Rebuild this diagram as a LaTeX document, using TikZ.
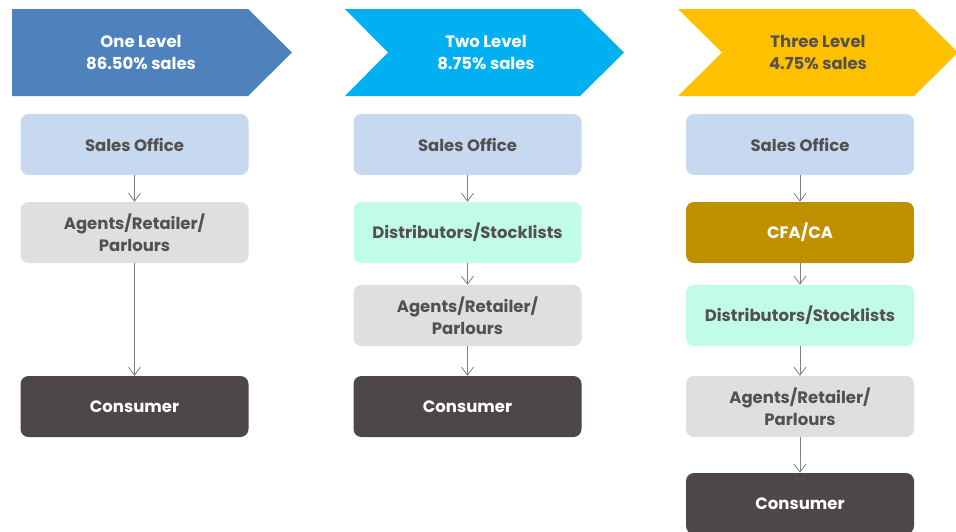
\documentclass[tikz,border=0pt]{standalone}
\usepackage{fontspec}
\setmainfont{Poppins}
\usetikzlibrary{arrows.meta}

\definecolor{headone}{HTML}{4F81BD}
\definecolor{headtwo}{HTML}{00B0F0}
\definecolor{headthree}{HTML}{FFC000}
\definecolor{salesblue}{HTML}{C6D9F1}
\definecolor{agentgray}{HTML}{DFDFDF}
\definecolor{distmint}{HTML}{C0FCE8}
\definecolor{cfagold}{HTML}{BF9000}
\definecolor{consdark}{HTML}{4D4847}
\definecolor{txtgray}{HTML}{545050}
\definecolor{arrgray}{HTML}{808080}

\tikzset{
  stage/.style={rounded corners=8pt, minimum width=228pt, minimum height=61pt,
    inner sep=0pt, align=center, text=txtgray,
    font=\bfseries\fontsize{16.5}{22}\selectfont},
  headtext/.style={align=center, font=\bfseries\fontsize{16.5}{22}\selectfont},
  flow/.style={draw=arrgray, line width=0.8pt, -{Straight Barb[length=8pt,width=12pt]}}
}

\begin{document}
\begin{tikzpicture}[x=1pt,y=-1pt]

  \newcommand\XA{134.5}
  \newcommand\XB{467.5}
  \newcommand\XC{800}

  \useasboundingbox (0,0) rectangle (956,531);

  % heads
  \fill[headone] (12,9) -- (248,9) -- (292,52.5) -- (248,96) -- (12,96) -- cycle;
  \fill[headtwo] (345,9) -- (580,9) -- (624,52.5) -- (580,96) -- (345,96)
    -- (388,52.5) -- cycle;
  \fill[headthree] (678,9) -- (914,9) -- (958,52.5) -- (914,96) -- (678,96)
    -- (722,52.5) -- cycle;

  \node[headtext, text=white] (headA) at (141,52.5) {One Level\\86.50\% sales};
  \node[headtext, text=white] (headB) at (486,52.5) {Two Level\\8.75\% sales};
  \node[headtext, text=txtgray] (headC) at (818,52.5) {Three Level\\4.75\% sales};

  % one level
  \node[stage, fill=salesblue] (salesA) at (\XA,144.5) {Sales Office};
  \node[stage, fill=agentgray] (agentA) at (\XA,232.5) {Agents/Retailer/\\Parlours};
  \node[stage, fill=consdark, text=white] (consA) at (\XA,406.5) {Consumer};

  \draw[flow] (salesA) -- (agentA);
  \draw[flow] (agentA) -- (consA);

  % two level
  \node[stage, fill=salesblue] (salesB) at (\XB,144.5) {Sales Office};
  \node[stage, fill=distmint] (distB) at (\XB,232.5) {Distributors/Stocklists};
  \node[stage, fill=agentgray] (agentB) at (\XB,315.5) {Agents/Retailer/\\Parlours};
  \node[stage, fill=consdark, text=white] (consB) at (\XB,406.5) {Consumer};

  \draw[flow] (salesB) -- (distB);
  \draw[flow] (distB) -- (agentB);
  \draw[flow] (agentB) -- (consB);

  % three level
  \node[stage, fill=salesblue] (salesC) at (\XC,144.5) {Sales Office};
  \node[stage, fill=cfagold, text=white] (cfaC) at (\XC,232.5) {CFA/CA};
  \node[stage, fill=distmint] (distC) at (\XC,315.5) {Distributors/Stocklists};
  \node[stage, fill=agentgray] (agentC) at (\XC,406.5) {Agents/Retailer/\\Parlours};
  \node[stage, fill=consdark, text=white] (consC) at (\XC,503.5) {Consumer};

  \draw[flow] (salesC) -- (cfaC);
  \draw[flow] (cfaC) -- (distC);
  \draw[flow] (distC) -- (agentC);
  \draw[flow] (agentC) -- (consC);

\end{tikzpicture}
\end{document}
